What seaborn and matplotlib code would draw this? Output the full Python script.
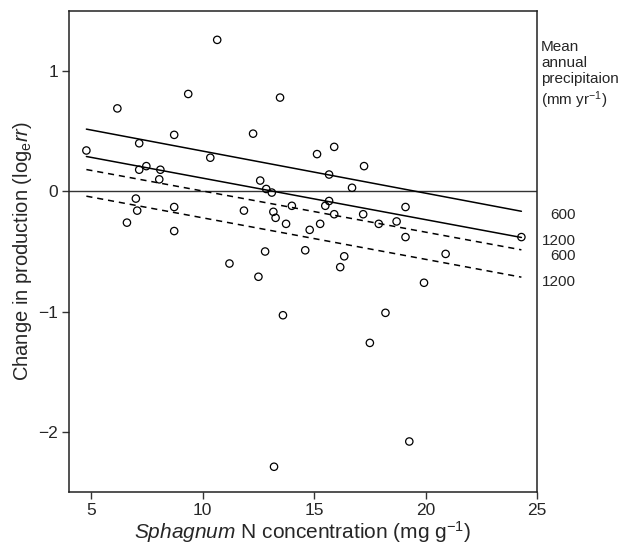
import matplotlib
matplotlib.use("Agg")
import matplotlib.pyplot as plt
import seaborn as sns
import numpy as np
import pandas as pd

# Data
n_conc = [4.78, 6.17, 10.65, 9.35, 13.47, 12.26, 8.72, 7.15, 10.34, 15.13,
          7.15, 7.47, 8.10, 8.05, 12.58, 12.85, 13.10, 7.00, 7.06, 6.60,
          8.72, 8.72, 11.85, 13.17, 13.27, 14.00, 13.74, 14.80, 14.60, 12.80,
          11.20, 12.50, 13.60, 13.20, 15.90, 17.24, 15.67, 16.70, 15.67, 15.50,
          15.90, 17.20, 19.10, 17.90, 18.70, 15.27, 19.10, 24.30, 16.35, 16.17,
          20.90, 19.93, 18.20, 17.50, 19.27]
log_rr = [0.34, 0.69, 1.26, 0.81, 0.78, 0.48, 0.47, 0.40, 0.28, 0.31,
          0.18, 0.21, 0.18, 0.10, 0.09, 0.02, -0.01, -0.06, -0.16, -0.26,
          -0.13, -0.33, -0.16, -0.17, -0.22, -0.12, -0.27, -0.32, -0.49, -0.50,
          -0.60, -0.71, -1.03, -2.29, 0.37, 0.21, 0.14, 0.03, -0.08, -0.12,
          -0.19, -0.19, -0.13, -0.27, -0.25, -0.27, -0.38, -0.38, -0.54, -0.63,
          -0.52, -0.76, -1.01, -1.26, -2.08]

# Fitted model lines (intercept, slope), one per precipitation level / group
line_precip = ["600", "1200", "600", "1200"]
line_group = ["solid", "solid", "dashed", "dashed"]
line_intercept = [0.685, 0.455, 0.345, 0.125]
line_slope = [-0.0350, -0.0345, -0.0342, -0.0345]
label_nudge = [-0.03, -0.03, -0.05, -0.04]

y_ticks = [-2, -1, 0, 1]
x_ticks = [5, 10, 15, 20, 25]

sns.set_theme(style="white")
plt.rcParams["font.family"] = ["Liberation Sans", "DejaVu Sans"]
plt.rcParams["mathtext.fontset"] = "custom"
plt.rcParams["mathtext.rm"] = "Liberation Sans"
plt.rcParams["mathtext.it"] = "Liberation Sans:italic"

fig = plt.figure(figsize=(6.26, 5.49), dpi=100)
ax = fig.add_axes([69 / 626, 1 - 492 / 549, (537 - 69) / 626, (492 - 11) / 549])

# zero reference line
ax.axhline(0, color="#333333", lw=1.0, zorder=1)

# regression lines
xmin, xmax = min(n_conc), max(n_conc)
rows = []
for i, (p, g, b0, b1) in enumerate(zip(line_precip, line_group, line_intercept, line_slope)):
    for xv in (xmin, xmax):
        rows.append({"x": xv, "y": b0 + b1 * xv, "line": i, "group": g})
lines_df = pd.DataFrame(rows)
for i, sub in lines_df.groupby("line"):
    ls = "-" if sub["group"].iloc[0] == "solid" else (0, (4, 3.2))
    sns.lineplot(data=sub, x="x", y="y", ax=ax, color="black", lw=1.1,
                 linestyle=ls, legend=False, zorder=2)

# points
pts = pd.DataFrame({"N": n_conc, "rr": log_rr})
sns.scatterplot(data=pts, x="N", y="rr", ax=ax, s=28, facecolor="none",
                edgecolor="black", linewidth=0.9, zorder=3)

ax.set_xlim(4.0, 25.0)
ax.set_ylim(-2.5, 1.5)
ax.set_xticks(x_ticks)
ax.set_yticks(y_ticks)
ax.tick_params(axis="both", which="both", direction="out", length=5, width=1,
               color="#333333", labelsize=12.5, pad=3, bottom=True, left=True)
for s in ax.spines.values():
    s.set_visible(True)
    s.set_color("#222222")
    s.set_linewidth(1.1)

ax.set_xlabel(r"$\it{Sphagnum}$ N concentration (mg g$^{-1}$)", fontsize=15, labelpad=1)
ax.set_ylabel(r"Change in production (log$_\mathregular{e}$$\it{rr}$)", fontsize=14.5, labelpad=3)

# labels for lines on right
for b0, b1, p, nd in zip(line_intercept, line_slope, line_precip, label_nudge):
    yend = b0 + b1 * xmax
    ax.annotate(p, xy=(1.0, yend + nd), xycoords=("axes fraction", "data"),
                xytext=(28, 0), textcoords="offset points", ha="right", va="center",
                fontsize=11, annotation_clip=False)

fig.text(541 / 626, 1 - 40 / 549, "Mean\nannual\nprecipitaion\n(mm yr$^{-1}$)",
         ha="left", va="top", fontsize=11, linespacing=1.2)

fig.savefig("out.png", dpi=100)
